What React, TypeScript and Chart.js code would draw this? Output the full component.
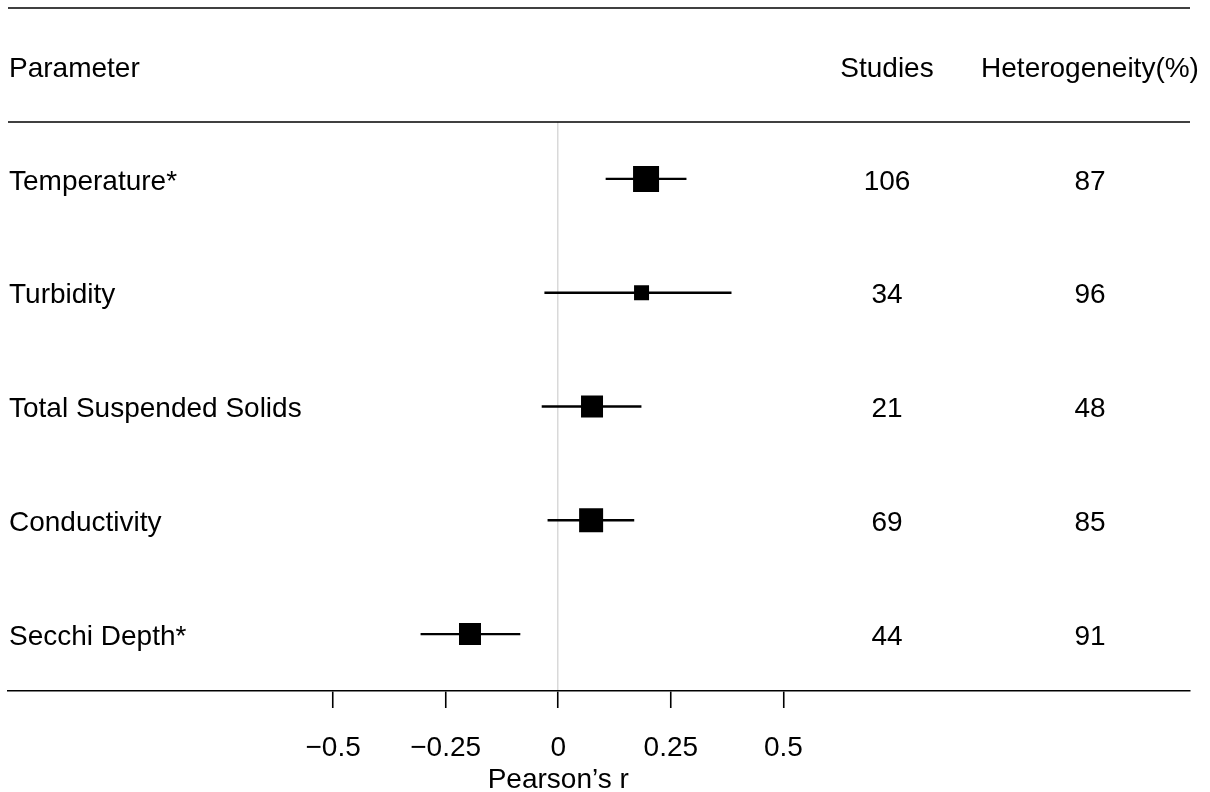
import React, { useEffect, useRef } from "react";
import { Chart, registerables } from "chart.js";

Chart.register(...registerables);

// ---- data ----
const parameters = ["Temperature*", "Turbidity", "Total Suspended Solids", "Conductivity", "Secchi Depth*"];
const estimates = [0.195, 0.185, 0.075, 0.073, -0.196];
const lowerCI = [0.106, -0.03, -0.036, -0.023, -0.305];
const upperCI = [0.284, 0.384, 0.184, 0.168, -0.085];
const studies = [106, 34, 21, 69, 44];
const heterogeneity = [87, 96, 48, 85, 91];
const tickValues = [-0.5, -0.25, 0, 0.25, 0.5];
const tickLabels = ["\u22120.5", "\u22120.25", "0", "0.25", "0.5"];
const headerLabels = ["Parameter", "Studies", "Heterogeneity(%)"];
const axisTitle = "Pearson\u2019s r";
// relative study weight shown as square side (px)
const weightSides = [26, 15, 22, 24, 22];

const FONT = "'Liberation Sans', Arial, Helvetica, sans-serif";
const FONT_SIZE = 28;

const textPlugin = {
  id: "forestText",
  afterDraw(chart: any) {
    const ctx = chart.ctx;
    const yScale = chart.scales.y;
    const xScale = chart.scales.x;
    const area = chart.chartArea;
    ctx.save();
    ctx.strokeStyle = "#000";
    ctx.lineWidth = 1.6;
    [8, area.top].forEach((yy: number) => {
      ctx.beginPath();
      ctx.moveTo(area.left, yy);
      ctx.lineTo(area.right, yy);
      ctx.stroke();
    });
    ctx.fillStyle = "#000";
    ctx.font = `${FONT_SIZE}px ${FONT}`;
    ctx.textBaseline = "middle";
    ctx.textAlign = "left";
    ctx.fillText(headerLabels[0], 9, 69);
    ctx.textAlign = "center";
    ctx.fillText(headerLabels[1], 887, 69);
    ctx.fillText(headerLabels[2], 1090, 69);
    parameters.forEach((p, i) => {
      const py = yScale.getPixelForValue(i) + 3;
      ctx.textAlign = "left";
      ctx.fillText(p, 9, py);
      ctx.textAlign = "center";
      ctx.fillText(String(studies[i]), 887, py);
      ctx.fillText(String(heterogeneity[i]), 1090, py);
    });
    // axis title, centred under the tick range
    const cx = (xScale.getPixelForValue(tickValues[0]) + xScale.getPixelForValue(tickValues[tickValues.length - 1])) / 2;
    ctx.textAlign = "center";
    ctx.fillText(axisTitle, cx, 780);
    ctx.restore();
  },
};

export default function App() {
  const ref = useRef<HTMLCanvasElement | null>(null);
  useEffect(() => {
    if (!ref.current) return;
    const chart = new Chart(ref.current, {
      type: "bar",
      data: {
        labels: parameters,
        datasets: [
          {
            type: "scatter",
            data: estimates.map((v, i) => ({ x: v, y: i })),
            pointStyle: "rect",
            pointRadius: weightSides.map((s) => s / Math.SQRT2),
            backgroundColor: "#000",
            borderColor: "#000",
            borderWidth: 0,
            order: 0,
          } as any,
          {
            type: "bar",
            data: lowerCI.map((lo, i) => [lo, upperCI[i]]),
            backgroundColor: "#000",
            borderWidth: 0,
            barThickness: 1.7,
            order: 1,
          } as any,
        ],
      },
      options: {
        indexAxis: "y",
        animation: false,
        responsive: false,
        maintainAspectRatio: false,
        events: [],
        layout: { autoPadding: false, padding: { left: 8, right: 20, top: 122, bottom: 0 } },
        plugins: { legend: { display: false }, tooltip: { enabled: false } },
        scales: {
          x: {
            type: "linear",
            min: -1.222,
            max: 1.403,
            position: "bottom",
            afterBuildTicks: (s: any) => {
              s.ticks = tickValues.map((v) => ({ value: v }));
            },
            afterFit: (s: any) => {
              s.height = 101;
              s.paddingLeft = 0;
              s.paddingRight = 0;
            },
            ticks: {
              callback: (_v: any, i: number) => tickLabels[i],
              color: "#000",
              font: { family: FONT, size: FONT_SIZE },
              padding: 23,
              maxRotation: 0,
              autoSkip: false,
            },
            grid: {
              color: (c: any) => (c.tick && c.tick.value === 0 ? "#d9d9d9" : "rgba(0,0,0,0)"),
              lineWidth: 1.5,
              tickColor: "#000",
              tickLength: 17,
              tickWidth: 1.6,
              drawOnChartArea: true,
            },
            border: { display: true, color: "#000", width: 1.6 },
            title: { display: false },
          },
          y: {
            type: "category",
            display: false,
            offset: true,
            grid: { display: false },
          },
        },
      } as any,
      plugins: [textPlugin],
    });
    return () => chart.destroy();
  }, []);
  return (
    <div style={{ position: "fixed", left: 0, top: 0, width: 1210, height: 792, background: "#fff" }}>
      <canvas ref={ref} width={1210} height={792} style={{ display: "block" }} />
    </div>
  );
}
